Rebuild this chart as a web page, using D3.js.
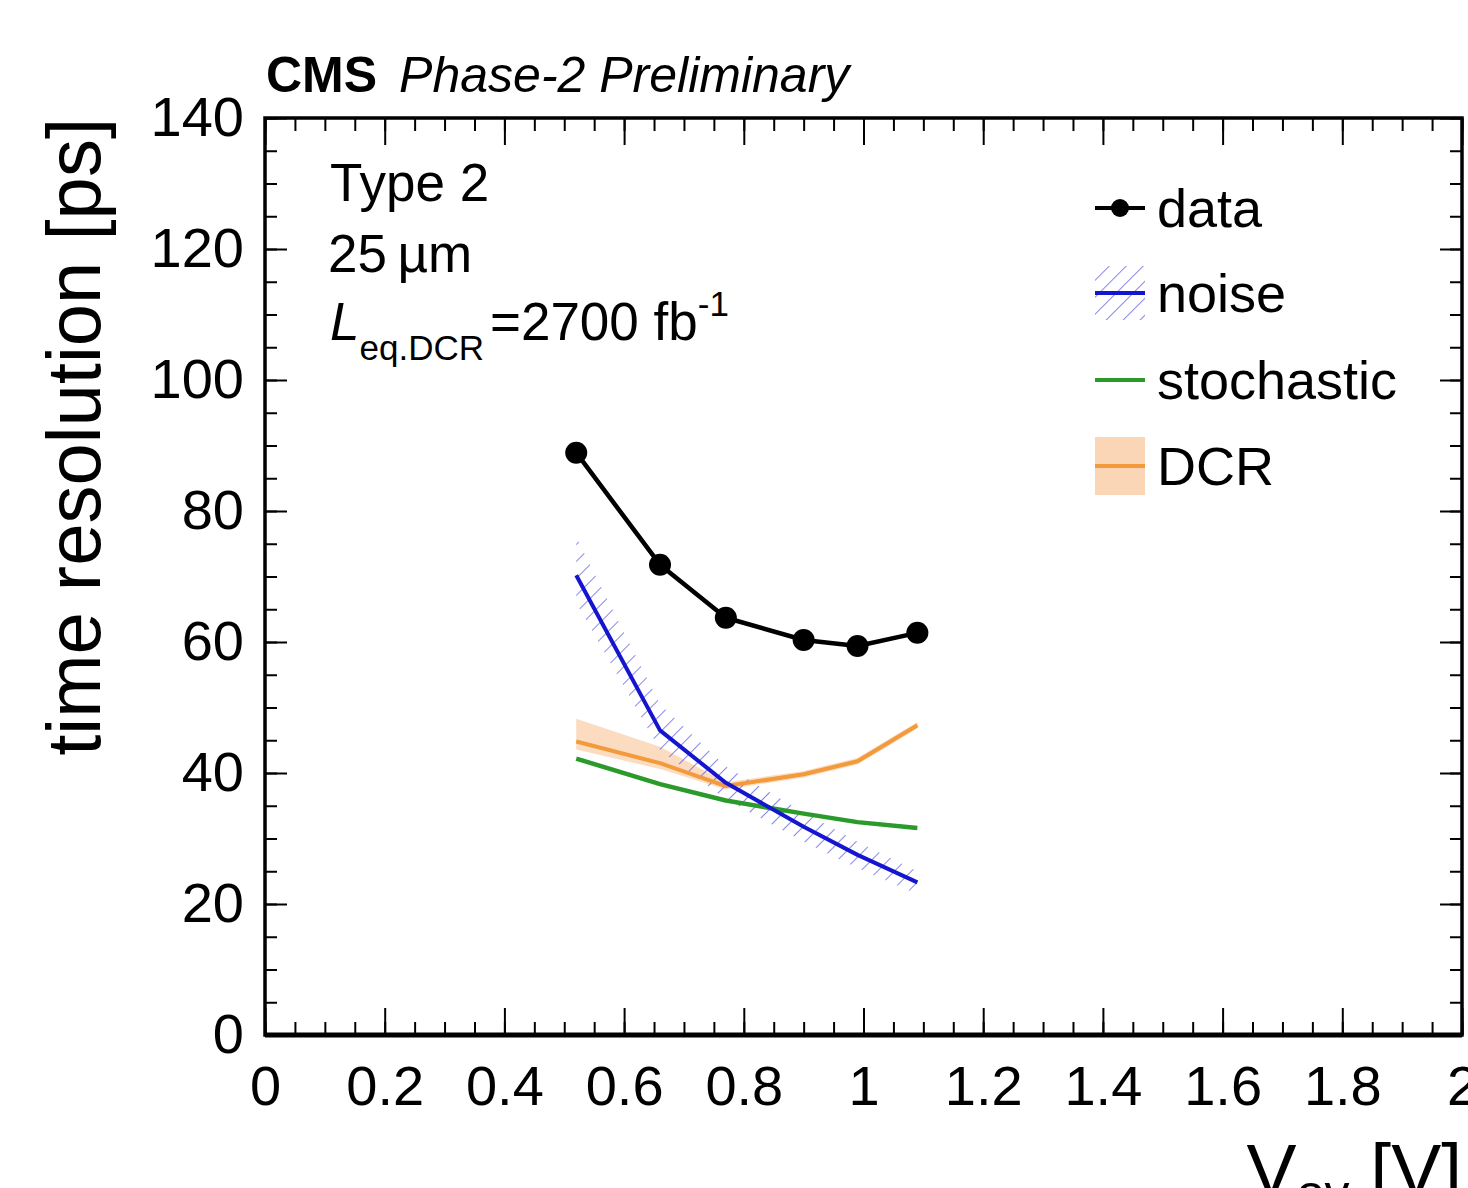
<!DOCTYPE html>
<html>
<head>
<meta charset="utf-8">
<script src="https://cdn.jsdelivr.net/npm/d3@7"></script>
<style>
  body { margin: 0; background: #fff; }
  text { font-family: "Liberation Sans", Arial, Helvetica, sans-serif; fill: #000; }
</style>
</head>
<body>
<div id="chart"></div>
<script>
// values
var vov = [0.52, 0.66, 0.77, 0.90, 0.99, 1.09];
var dataRes = [88.9, 71.8, 63.7, 60.3, 59.4, 61.4];
var noise = [70.2, 46.5, 38.5, 31.8, 27.5, 23.3];
var noiseHi = [76.0, 50.5, 41.0, 34.0, 29.5, 25.0];
var noiseLo = [66.0, 43.5, 36.0, 29.5, 25.5, 21.5];
var stochastic = [42.2, 38.3, 35.8, 33.8, 32.5, 31.6];
var dcr = [44.8, 41.5, 38.0, 39.8, 41.8, 47.3];
var dcrHi = [48.3, 44.0, 38.6, 40.3, 42.3, 47.8];
var dcrLo = [43.6, 40.6, 37.5, 39.3, 41.3, 46.8];

var xTicks = [0, 0.2, 0.4, 0.6, 0.8, 1, 1.2, 1.4, 1.6, 1.8, 2];
var yTicks = [0, 20, 40, 60, 80, 100, 120, 140];
var legendLabels = ["data", "noise", "stochastic", "DCR"];

var W = 1468, H = 1188;
var pLeft = 265, pRight = 1462, pTop = 118, pBottom = 1035;

var svg = d3.select("#chart")
  .append("svg")
    .attr("width", W)
    .attr("height", H);

var x = d3.scaleLinear().domain([0, 2]).range([pLeft, pRight]);
var y = d3.scaleLinear().domain([0, 140]).range([pBottom, pTop]);

var defs = svg.append("defs");
var hatch = defs.append("pattern")
    .attr("id", "hatch")
    .attr("patternUnits", "userSpaceOnUse")
    .attr("width", 12)
    .attr("height", 12)
    .attr("patternTransform", "rotate(45)");
hatch.append("line")
    .attr("x1", 0).attr("y1", 0)
    .attr("x2", 0).attr("y2", 12)
    .attr("stroke", "#4a4ae0")
    .attr("stroke-width", 1.8)
    .attr("stroke-opacity", 0.75);

// minor tick values
var xMinor = d3.range(0, 2.0001, 0.05).map(function(d) { return +d.toFixed(2); });
var yMinor = d3.range(0, 140.001, 5);

function styleAxis(g) {
  g.select(".domain").remove();
  g.selectAll(".tick line").attr("stroke", "#000").attr("stroke-width", 2);
}

// bottom
svg.append("g")
  .attr("transform", "translate(0," + pBottom + ")")
  .call(d3.axisBottom(x).tickValues(xMinor).tickSize(-13).tickFormat(""))
  .call(styleAxis);
svg.append("g")
  .attr("transform", "translate(0," + pBottom + ")")
  .call(d3.axisBottom(x).tickValues(xTicks).tickSizeInner(-27).tickSizeOuter(0)
        .tickPadding(30).tickFormat(function(d) { return d; }))
  .call(styleAxis)
  .selectAll("text")
    .style("font-size", "56px");

// top
svg.append("g")
  .attr("transform", "translate(0," + pTop + ")")
  .call(d3.axisTop(x).tickValues(xMinor).tickSize(-13).tickFormat(""))
  .call(styleAxis);
svg.append("g")
  .attr("transform", "translate(0," + pTop + ")")
  .call(d3.axisTop(x).tickValues(xTicks).tickSize(-27).tickFormat(""))
  .call(styleAxis);

// left
svg.append("g")
  .attr("transform", "translate(" + pLeft + ",0)")
  .call(d3.axisLeft(y).tickValues(yMinor).tickSize(-12).tickFormat(""))
  .call(styleAxis);
svg.append("g")
  .attr("transform", "translate(" + pLeft + ",0)")
  .call(d3.axisLeft(y).tickValues(yTicks).tickSizeInner(-22).tickSizeOuter(0)
        .tickPadding(21).tickFormat(function(d) { return d; }))
  .call(styleAxis)
  .selectAll("text")
    .style("font-size", "56px");

// right
svg.append("g")
  .attr("transform", "translate(" + pRight + ",0)")
  .call(d3.axisRight(y).tickValues(yMinor).tickSize(-12).tickFormat(""))
  .call(styleAxis);
svg.append("g")
  .attr("transform", "translate(" + pRight + ",0)")
  .call(d3.axisRight(y).tickValues(yTicks).tickSize(-22).tickFormat(""))
  .call(styleAxis);

// frame
svg.append("rect")
  .attr("x", pLeft).attr("y", pTop)
  .attr("width", pRight - pLeft).attr("height", pBottom - pTop)
  .attr("fill", "none")
  .attr("stroke", "#000")
  .attr("stroke-width", 3.5);
svg.append("line")
  .attr("x1", pLeft).attr("x2", pRight)
  .attr("y1", pBottom).attr("y2", pBottom)
  .attr("stroke", "#000").attr("stroke-width", 5);

// bands
var band = function(hi, lo) {
  return d3.area()
    .x(function(d, i) { return x(vov[i]); })
    .y0(function(d, i) { return y(lo[i]); })
    .y1(function(d, i) { return y(hi[i]); });
};

svg.append("path")
  .datum(vov)
  .attr("d", band(dcrHi, dcrLo))
  .attr("fill", "#fbd6b6")
  .attr("fill-opacity", 0.85);

svg.append("path")
  .datum(vov)
  .attr("d", band(noiseHi, noiseLo))
  .attr("fill", "url(#hatch)");

function drawLine(vals, color, w) {
  svg.append("path")
    .datum(vals)
    .attr("d", d3.line()
      .x(function(d, i) { return x(vov[i]); })
      .y(function(d) { return y(d); }))
    .attr("fill", "none")
    .attr("stroke", color)
    .attr("stroke-width", w)
    .attr("stroke-linejoin", "round");
}

drawLine(dcr, "#f29a3c", 4);
drawLine(stochastic, "#2a9a2a", 4.5);
drawLine(noise, "#1515d0", 4);
drawLine(dataRes, "#000", 4.5);

svg.selectAll("circle.pt")
  .data(dataRes)
  .enter()
  .append("circle")
    .attr("class", "pt")
    .attr("cx", function(d, i) { return x(vov[i]); })
    .attr("cy", function(d) { return y(d); })
    .attr("r", 11)
    .attr("fill", "#000");

// legend
var legY = [208, 293, 380, 466];
var lx0 = 1095, lx1 = 1145;

svg.append("rect")
  .attr("x", lx0).attr("y", legY[1] - 27)
  .attr("width", lx1 - lx0).attr("height", 54)
  .attr("fill", "url(#hatch)");
svg.append("rect")
  .attr("x", lx0).attr("y", legY[3] - 29)
  .attr("width", lx1 - lx0).attr("height", 58)
  .attr("fill", "#fbd6b6");

var legColors = ["#000", "#1515d0", "#2a9a2a", "#f29a3c"];
legY.forEach(function(ly, i) {
  svg.append("line")
    .attr("x1", lx0).attr("x2", lx1)
    .attr("y1", ly).attr("y2", ly)
    .attr("stroke", legColors[i])
    .attr("stroke-width", 4);
});
svg.append("circle")
  .attr("cx", (lx0 + lx1) / 2).attr("cy", legY[0])
  .attr("r", 9).attr("fill", "#000");

svg.selectAll("text.leg")
  .data(legendLabels)
  .enter()
  .append("text")
    .attr("class", "leg")
    .attr("x", 1157)
    .attr("y", function(d, i) { return legY[i] + 19; })
    .style("font-size", "54px")
    .text(function(d) { return d; });

// header
var head = svg.append("text")
  .attr("x", 266).attr("y", 92)
  .style("font-size", "50px");
head.append("tspan").style("font-weight", "bold").text("CMS");
head.append("tspan").attr("dx", 22).style("font-style", "italic").text("Phase-2 Preliminary");

// info text
svg.append("text")
  .attr("x", 330).attr("y", 201)
  .style("font-size", "53px")
  .text("Type 2");
svg.append("text")
  .attr("x", 328).attr("y", 272)
  .style("font-size", "53px")
  .text("25\u2009\u00b5m");
var lum = svg.append("text")
  .attr("x", 330).attr("y", 340)
  .style("font-size", "53px");
lum.append("tspan").style("font-style", "italic").text("L");
lum.append("tspan").attr("dy", 20).style("font-size", "35px").text("eq.DCR");
lum.append("tspan").attr("dy", -20).attr("dx", 6).text("=2700 fb");
lum.append("tspan").attr("dy", -24).style("font-size", "35px").text("-1");

// axis titles
svg.append("text")
  .attr("transform", "translate(100," + pTop + ") rotate(-90)")
  .style("text-anchor", "end")
  .style("font-size", "76px")
  .text("time resolution [ps]");

var xt = svg.append("text")
  .attr("x", pRight)
  .attr("y", 1196)
  .style("text-anchor", "end")
  .style("font-size", "75px");
xt.append("tspan").text("V");
xt.append("tspan").attr("dy", 14).style("font-size", "50px").text("ov");
xt.append("tspan").attr("dy", -14).text(" [V]");
</script>
</body>
</html>
